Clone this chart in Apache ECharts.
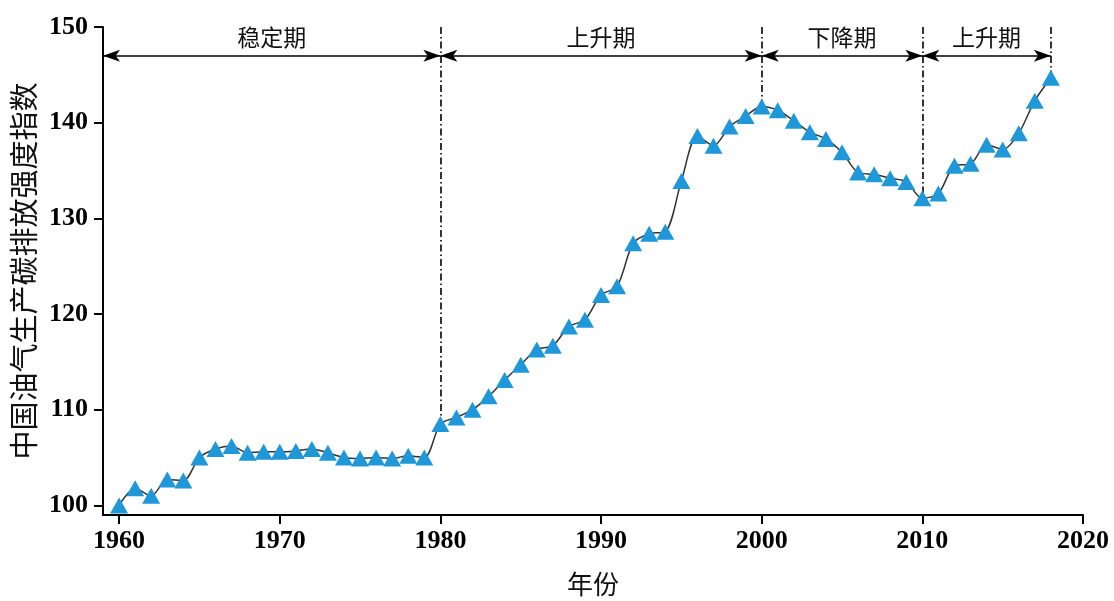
<!DOCTYPE html>
<html><head><meta charset="utf-8">
<script src="https://cdn.jsdelivr.net/npm/echarts@6/dist/echarts.min.js"></script>
<style>html,body{margin:0;padding:0;background:#fff}#c{width:1114px;height:601px}</style>
</head><body><div id="c"></div>
<script>
const years = [1960,1961,1962,1963,1964,1965,1966,1967,1968,1969,1970,1971,1972,1973,1974,1975,1976,1977,1978,1979,
  1980,1981,1982,1983,1984,1985,1986,1987,1988,1989,1990,1991,1992,1993,1994,1995,1996,1997,1998,1999,
  2000,2001,2002,2003,2004,2005,2006,2007,2008,2009,2010,2011,2012,2013,2014,2015,2016,2017,2018];
const values = [100.0,101.8,101.0,102.7,102.6,105.0,105.9,106.2,105.5,105.6,105.6,105.7,105.9,105.5,105.0,104.9,105.0,104.9,105.2,105.0,
  108.5,109.2,110.0,111.4,113.1,114.7,116.3,116.7,118.7,119.4,122.0,122.9,127.4,128.4,128.6,133.9,138.6,137.6,139.6,140.7,
  141.7,141.3,140.2,139.0,138.3,136.9,134.8,134.6,134.2,133.8,132.1,132.6,135.5,135.7,137.7,137.2,138.9,142.3,144.7];
const xTicks = [1960,1970,1980,1990,2000,2010,2020];
const yTicks = [100,110,120,130,140,150];
const phaseBounds = [1959,1980,2000,2010,2018];
const phaseNames = ['稳定期','上升期','下降期','上升期'];
const dividerYears = [1980,2000,2010,2018];
const arrowLevel = 147;
const topLevel = 150;

const cjk = "'Noto Sans CJK SC', sans-serif";
const serif = "'Liberation Serif', 'Times New Roman', serif";

const mlData = [];
dividerYears.forEach(y => {
  const v = values[years.indexOf(y)];
  mlData.push([{coord:[y, topLevel], symbol:'none', label:{show:false},
    lineStyle:{type:[7,3,1.5,3], width:1.6, color:'#000'}}, {coord:[y, v], symbol:'none'}]);
});
phaseNames.forEach((n, i) => {
  mlData.push([{coord:[phaseBounds[i], arrowLevel], symbol:'arrow',
    lineStyle:{type:'solid', width:1.6, color:'#000'},
    label:{show:true, formatter:n, position:'insideMiddleTop', distance:7, color:'#111', fontSize:23, fontFamily:cjk}},
    {coord:[phaseBounds[i+1], arrowLevel], symbol:'arrow'}]);
});

const chart = echarts.init(document.getElementById('c'), null, {renderer:'canvas'});
chart.setOption({
  animation:false,
  backgroundColor:'#fff',
  grid:{left:103, right:31, top:27, bottom:86, containLabel:false, outerBoundsMode:'none'},
  xAxis:{type:'value', min:1959, max:2020,
    name:'年份', nameLocation:'middle', nameGap:56,
    nameTextStyle:{fontFamily:cjk, fontSize:26, color:'#111'},
    axisLine:{show:true, lineStyle:{color:'#000', width:2}},
    axisTick:{show:true, inside:false, length:9, customValues:xTicks, lineStyle:{color:'#000', width:2}},
    axisLabel:{customValues:xTicks, margin:13, fontFamily:serif, fontWeight:'bold', fontSize:26, color:'#000',
      formatter:v => String(v)},
    splitLine:{show:false}},
  yAxis:{type:'value', min:99, max:150,
    name:'中国油气生产碳排放强度指数', nameLocation:'middle', nameGap:60, nameRotate:90,
    nameTextStyle:{fontFamily:cjk, fontSize:29, color:'#111'},
    axisLine:{show:true, lineStyle:{color:'#000', width:2}},
    axisTick:{show:true, inside:false, length:9, customValues:yTicks, lineStyle:{color:'#000', width:2}},
    axisLabel:{customValues:yTicks, margin:15, fontFamily:serif, fontWeight:'bold', fontSize:26, color:'#000',
      formatter:v => String(v)},
    splitLine:{show:false}},
  series:[{
    type:'line',
    data: years.map((y,i)=>[y, values[i]]),
    smooth:0.3,
    symbol:'triangle', symbolSize:[18,16],
    itemStyle:{color:'#1e98d8'},
    lineStyle:{color:'#333', width:1.5},
    z:3,
    markLine:{silent:true, symbolSize:[9,17], data:mlData, z:2,
      lineStyle:{color:'#000', width:1.6}}
  }]
});
</script></body></html>
